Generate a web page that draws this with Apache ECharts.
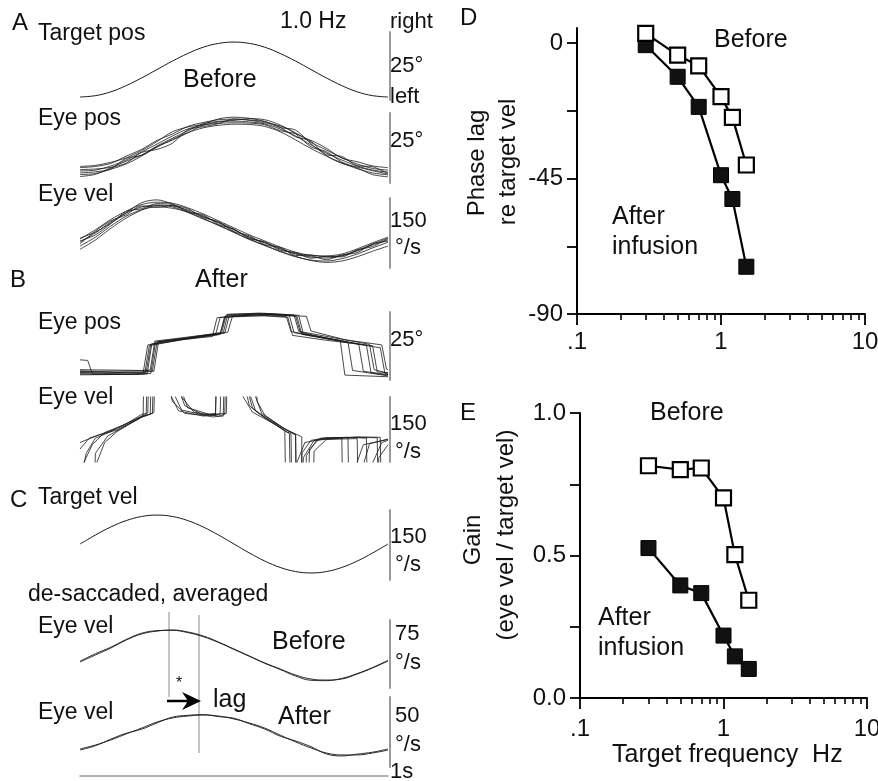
<!DOCTYPE html>
<html><head><meta charset="utf-8">
<script src="https://cdn.jsdelivr.net/npm/echarts@6/dist/echarts.min.js"></script>
<style>html,body{margin:0;padding:0;background:#fff}#c{width:878px;height:781px}</style>
</head><body><div id="c"></div>
<script>
// ---------- Panels D / E data ----------
const freq = [0.3, 0.5, 0.7, 1.0, 1.2, 1.5];
const phaseBefore = [3.2, -4.0, -7.6, -17.8, -24.7, -40.5];
const phaseAfter = [-0.7, -11.2, -21.2, -43.9, -51.8, -74.3];
const gainBefore = [0.815, 0.801, 0.807, 0.702, 0.503, 0.343];
const gainAfter = [0.526, 0.395, 0.368, 0.219, 0.146, 0.102];
const freqMinorTicks = [0.2,0.3,0.4,0.5,0.6,0.7,0.8,0.9,2,3,4,5,6,7,8,9];
const phaseTicks = [-90, -67.5, -45, -22.5, 0];
const phaseLabels = [-90, -45, 0];

// ---------- Panels A-C traces (time in s, 1 cycle of 1.0 Hz) ----------
const time21 = [0,0.05,0.1,0.15,0.2,0.25,0.3,0.35,0.4,0.45,0.5,0.55,0.6,0.65,0.7,0.75,0.8,0.85,0.9,0.95,1];
// A: target position (deg)
const targetPos = [1.1,1.6,3.0,5.3,8.1,11.2,14.3,17.1,19.4,20.8,21.3,20.8,19.4,17.1,14.3,11.2,8.1,5.3,3.0,1.6,1.1];
// A: eye position, before (deg), several cycles
const eyePosBefore = [
 [4.3,4.6,6.1,8.2,11.1,13.9,16.8,19.3,20.7,21.8,22.1,21.8,21.1,19.3,16.8,13.6,10.7,8.2,6.1,4.6,3.9],
 [5.5,5.9,7.0,9.6,12.0,15.2,17.5,20.2,21.6,22.6,22.8,22.4,21.5,20.4,17.9,14.5,11.8,9.0,6.8,5.2,4.6],
 [3.0,3.4,4.9,6.8,9.6,12.8,15.6,18.0,19.7,20.6,21.0,20.9,20.2,18.3,15.4,12.3,9.6,7.2,5.1,3.6,2.9],
 [4.8,5.0,5.6,7.1,10.9,12.0,14.2,19.0,20.1,21.2,22.9,22.5,21.9,19.8,18.9,14.0,10.1,9.5,6.2,5.8,3.4],
 [2.3,3.1,5.4,7.8,10.0,13.2,16.0,18.6,21.2,22.0,22.4,23.0,22.6,20.7,17.6,12.9,11.2,7.5,5.4,3.0,2.2],
 [5.9,6.3,7.4,9.0,11.6,14.8,18.3,20.0,21.0,22.9,23.5,23.1,22.0,19.9,16.5,15.2,12.4,8.9,7.6,6.1,5.5],
 [3.6,4.0,5.0,8.8,9.9,13.0,15.3,17.9,20.6,21.3,21.5,21.4,20.8,18.7,17.6,14.9,9.8,7.0,5.7,4.4,3.2]
];
// A: eye velocity, before (deg/s)
const eyeVelBefore = [
 [55.7,75,98.6,117.9,130.7,135,132.9,124.3,111.4,96.4,81.4,66.4,53.6,40.7,30,23.6,21.4,25.7,36.4,49.3,60],
 [62,82,104,122,136,141,139,129,116,101,86,71,58,45,34,27,26,30,41,54,66],
 [47,66,90,111,125,131,128,120,106,91,76,61,48,35,24,17,15,20,30,43,55],
 [58,71,95,121,127,138,136,120,114,93,83,63,56,38,33,21,25,24,39,46,63],
 [52,79,101,114,133,130,134,127,108,99,78,69,50,44,27,26,18,28,33,52,57],
 [40,60,85,107,124,134,131,119,105,92,77,62,49,36,25,16,12,15,24,36,47],
 [64,77,96,118,140,146,137,122,110,98,83,65,55,42,31,28,24,27,38,51,64]
];
// B: eye position, after ([t s, deg]) – saccadic
const eyePosAfter = [
 [[0,2.8],[0.1,2.4],[0.2,2.6],[0.215,2.9],[0.23,13.2],[0.3,14.6],[0.44,16.4],[0.455,16.8],[0.47,23.4],[0.55,24.2],[0.66,24.0],[0.68,23.6],[0.695,17.4],[0.8,15.2],[0.9,13.4],[0.93,12.8],[0.945,2.6],[1,1.8]],
 [[0,3.4],[0.12,2.8],[0.22,3.0],[0.235,3.3],[0.25,14.0],[0.35,15.4],[0.45,16.9],[0.47,17.2],[0.485,23.8],[0.6,24.4],[0.69,23.7],[0.705,23.2],[0.72,16.8],[0.85,14.1],[0.96,12.1],[0.975,11.9],[0.99,2.4],[1,2.2]],
 [[0,7.4],[0.025,7.2],[0.04,2.2],[0.15,2.0],[0.21,2.3],[0.225,12.6],[0.33,14.8],[0.43,16.0],[0.445,22.9],[0.56,23.9],[0.67,23.3],[0.685,17.8],[0.8,15.5],[0.87,14.0],[0.885,3.5],[0.95,2.4],[1,1.5]],
 [[0,1.9],[0.1,2.0],[0.23,2.4],[0.245,13.9],[0.35,15.6],[0.46,17.5],[0.475,24.0],[0.58,24.6],[0.71,23.8],[0.725,17.0],[0.82,15.0],[0.905,13.2],[0.92,3.2],[1,2.0]],
 [[0,2.5],[0.15,2.8],[0.205,2.6],[0.22,12.9],[0.31,14.4],[0.455,17.0],[0.47,23.1],[0.6,23.6],[0.675,23.0],[0.69,16.4],[0.8,14.6],[0.95,12.6],[0.965,3.0],[1,2.7]],
 [[0,3.1],[0.2,3.4],[0.24,3.2],[0.255,14.2],[0.34,15.2],[0.48,17.6],[0.495,23.5],[0.62,24.1],[0.735,23.4],[0.75,18.0],[0.86,14.8],[0.98,12.9],[0.995,4.0],[1,3.8]],
 [[0,2.2],[0.18,2.0],[0.218,2.2],[0.233,13.1],[0.4,16.3],[0.44,16.6],[0.455,23.0],[0.58,24.0],[0.70,23.5],[0.715,17.6],[0.82,14.9],[0.845,14.5],[0.86,1.8],[1,1.2]],
 [[0,3.8],[0.2,3.5],[0.228,3.7],[0.243,14.3],[0.38,16.2],[0.465,17.3],[0.48,24.2],[0.6,24.5],[0.695,23.9],[0.71,17.9],[0.85,15.0],[0.94,13.1],[0.955,3.8],[1,2.5]]
];
// B: eye velocity, after ([t s, deg/s]) – saccades run off scale
const eyeVelAfter = [
 [[0,-50],[0.02,20],[0.05,55],[0.1,70],[0.15,88],[0.2,110],[0.215,112],[0.225,400],[0.265,400],[0.28,200],[0.3,140],[0.34,112],[0.4,108],[0.455,110],[0.465,400],[0.5,400],[0.52,220],[0.55,130],[0.58,112],[0.65,80],[0.68,65],[0.69,-400],[0.71,-400],[0.72,20],[0.75,50],[0.8,56],[0.9,56],[0.93,55],[0.94,-400],[0.96,-400],[0.97,10],[1,40]],
 [[0,-20],[0.04,40],[0.08,68],[0.14,85],[0.2,105],[0.235,112],[0.245,400],[0.28,400],[0.3,230],[0.33,150],[0.37,115],[0.45,106],[0.47,110],[0.48,400],[0.52,400],[0.54,180],[0.57,118],[0.62,95],[0.7,62],[0.71,-400],[0.73,-400],[0.745,30],[0.78,55],[0.88,57],[0.965,56],[0.975,-400],[0.99,-400],[1,-100]],
 [[0,30],[0.03,55],[0.1,72],[0.18,98],[0.205,108],[0.212,400],[0.25,400],[0.27,250],[0.29,160],[0.32,118],[0.4,106],[0.44,108],[0.447,400],[0.49,400],[0.5,260],[0.53,150],[0.56,115],[0.62,92],[0.665,72],[0.675,-400],[0.695,-400],[0.705,0],[0.73,45],[0.8,54],[0.85,55],[0.86,-400],[0.88,-400],[0.89,-20],[0.92,40],[1,52]],
 [[0,-80],[0.05,-10],[0.08,45],[0.12,70],[0.2,104],[0.24,114],[0.25,400],[0.29,400],[0.31,200],[0.35,125],[0.42,110],[0.475,112],[0.485,400],[0.54,400],[0.56,170],[0.59,112],[0.66,78],[0.72,58],[0.725,-400],[0.745,-400],[0.76,25],[0.8,52],[0.9,54],[0.91,-400],[0.93,-400],[0.945,-10],[0.98,45],[1,50]],
 [[0,45],[0.06,62],[0.12,74],[0.19,100],[0.22,113],[0.23,400],[0.27,400],[0.29,180],[0.33,120],[0.43,104],[0.465,106],[0.475,400],[0.51,400],[0.53,200],[0.56,125],[0.6,102],[0.67,70],[0.685,66],[0.695,-400],[0.715,-400],[0.725,10],[0.76,50],[0.9,58],[0.975,57],[0.985,-400],[1,-400]],
 [[0,-400],[0.03,-400],[0.05,20],[0.09,60],[0.15,84],[0.2,103],[0.228,110],[0.238,400],[0.27,400],[0.3,210],[0.34,130],[0.4,109],[0.44,112],[0.452,400],[0.56,400],[0.575,140],[0.6,108],[0.67,74],[0.7,64],[0.705,-400],[0.725,-400],[0.735,15],[0.77,52],[0.82,56],[0.87,57],[0.88,-400],[0.9,-400],[0.91,-30],[0.94,42],[1,53]]
];
// C: target velocity and de-saccaded averaged eye velocity (deg/s)
const targetVel = [77.1,96.3,113.6,127.3,136.1,139.1,136.1,127.3,113.6,96.3,77.1,57.9,40.6,26.9,18.1,15.1,18.1,26.9,40.6,57.9,77.1];
const avgVelBefore = [
 [28.7,36.4,44.1,52.9,59.6,62.8,64.0,61.8,57.4,50.7,43.0,35.3,27.6,21.0,14.3,9.9,8.8,9.9,15.4,22.1,29.8],
 [29.5,37.8,45.0,53.5,60.4,63.2,63.6,61.1,56.6,50.2,42.5,34.9,27.2,20.4,13.2,8.5,8.1,10.6,15.9,22.6,30.5]
];
const avgVelAfter = [
 [12.9,15.7,19.3,23.6,27.8,32.1,35.0,36.4,37.1,36.4,34.3,31.4,27.8,22.8,17.9,13.6,10.0,8.6,8.6,10.0,12.1],
 [12.1,15.2,19.9,24.1,27.0,31.5,35.6,36.9,37.4,36.0,34.8,30.9,27.1,22.0,18.6,14.5,9.3,7.9,9.2,10.6,12.8]
];

// ---------- layout ----------
const FONT = "'Liberation Sans', Arial, Helvetica, sans-serif";
const leftPanels = [ // top, height, yMax
 {top:32, h:68, max:25},  // A target pos
 {top:113, h:70, max:25}, // A eye pos
 {top:198, h:70, max:150},// A eye vel
 {top:312, h:68, max:25}, // B eye pos
 {top:397, h:65, max:150},// B eye vel
 {top:510, h:70, max:150},// C target vel
 {top:620, h:68, max:75}, // C before
 {top:697, h:70, max:50}  // C after
];
const grids = [], xAxes = [], yAxes = [], series = [];
leftPanels.forEach((p, i) => {
  grids.push({left:80, width:308, top:p.top, height:p.h, outerBoundsMode:'none', containLabel:false});
  xAxes.push({gridIndex:i, type:'value', min:0, max:1, show: i===7,
    offset: i===7 ? 9 : 0, position:'bottom',
    axisLine:{show:true, onZero:false, lineStyle:{color:'#9a9a9a', width:1.5}},
    axisTick:{show:false}, axisLabel:{show:false}, splitLine:{show:false}});
  yAxes.push({gridIndex:i, type:'value', min:0, max:p.max, position:'right', offset:2,
    axisLine:{show:true, onZero:false, lineStyle:{color:'#9a9a9a', width:2}},
    axisTick:{show:false}, axisLabel:{show:false}, splitLine:{show:false}});
});
function addTrace(idx, data, smooth, width, color) {
  series.push({type:'line', xAxisIndex:idx, yAxisIndex:idx, data:data, showSymbol:false, symbol:'none',
    smooth: smooth, clip:true, silent:true, animation:false,
    lineStyle:{color: color || '#1a1a1a', width: width || 0.9}});
}
const pairs = arr => time21.map((t,k) => [t, arr[k]]);
addTrace(0, pairs(targetPos), 0.4, 1);
eyePosBefore.forEach(a => addTrace(1, pairs(a), 0.3, 0.8));
eyeVelBefore.forEach(a => addTrace(2, pairs(a), 0.3, 0.8));
eyePosAfter.forEach(a => addTrace(3, a, false, 0.8));
eyeVelAfter.forEach(a => addTrace(4, a, false, 0.8));
addTrace(5, pairs(targetVel), 0.4, 1);
avgVelBefore.forEach(a => addTrace(6, pairs(a), 0.4, 0.9));
avgVelAfter.forEach(a => addTrace(7, pairs(a), 0.4, 0.9));

// right-hand panels D (grid 8) and E (grid 9)
grids.push({left:577, right:13, top:28, height:286, outerBoundsMode:'none', containLabel:false});
grids.push({left:580, right:11, top:413, height:285, outerBoundsMode:'none', containLabel:false});
const freqFmt = v => v < 0.5 ? '.1' : (v < 5 ? '1' : '10');
const minorLog = freqMinorTicks.map(v => Math.log10(v));
[8, 9].forEach((g, k) => {
  xAxes.push({gridIndex:g, type:'log', logBase:10, min:0.1, max:10, position:'bottom',
    axisLine:{show:true, onZero:false, lineStyle:{color:'#000', width:2}},
    axisTick:{show:true, length:11, lineStyle:{color:'#000', width:1.8}},
    minorTick:{show:false},
    axisLabel:{formatter:freqFmt, fontSize:24, color:'#111', fontFamily:FONT, margin: k===0 ? 16 : 19},
    splitLine:{show:false}});
  xAxes.push({gridIndex:g, type:'value', min:-1, max:1, position:'bottom',
    axisLine:{show:false, onZero:false},
    axisTick:{show:true, length:6, customValues:minorLog, lineStyle:{color:'#000', width:1.6}},
    axisLabel:{show:false}, splitLine:{show:false}});
});
yAxes.push({gridIndex:8, type:'value', min:-90, max:5, interval:22.5,
  axisLine:{show:true, onZero:false, lineStyle:{color:'#000', width:2}},
  axisTick:{show:true, length:10, customValues:phaseTicks, lineStyle:{color:'#000', width:1.8}},
  axisLabel:{customValues:phaseLabels, fontSize:24, color:'#111', fontFamily:FONT, margin:14,
    formatter: v => (Math.abs(v % 45) < 1e-6 ? String(v) : '')},
  splitLine:{show:false}});
yAxes.push({gridIndex:9, type:'value', min:0, max:1, interval:0.25,
  axisLine:{show:true, onZero:false, lineStyle:{color:'#000', width:2}},
  axisTick:{show:true, length:10, lineStyle:{color:'#000', width:1.8}},
  axisLabel:{fontSize:24, color:'#111', fontFamily:FONT, margin:14,
    formatter: v => (Math.abs(v*2 - Math.round(v*2)) < 1e-6 ? v.toFixed(1) : '')},
  splitLine:{show:false}});

function addPoints(xIdx, yIdx, ys, open) {
  series.push({type:'line', xAxisIndex:xIdx, yAxisIndex:yIdx, data: freq.map((f,k)=>[f, ys[k]]),
    symbol:'rect', symbolSize:15, showSymbol:true, animation:false, silent:true,
    lineStyle:{color:'#000', width:2.2},
    itemStyle: open ? {color:'#fff', borderColor:'#000', borderWidth:2.2} : {color:'#111', borderColor:'#000', borderWidth:1}});
}
addPoints(8, 8, phaseAfter, false);
addPoints(8, 8, phaseBefore, true);
addPoints(10, 9, gainAfter, false);
addPoints(10, 9, gainBefore, true);

// ---------- text & annotations ----------
const texts = [
 ['A',12,23,24],['Target pos',38,34,23],['1.0 Hz',280,22,23],['right',390,22,22],['25°',390,66,22],['left',390,97,22],
 ['Before',183,80,25],['Eye pos',38,119,23],['25°',390,141,22],['Eye vel',38,195,23],['150',390,221,22],['°/s',395,248,22],
 ['B',10,280,24],['After',195,280,25],['Eye pos',38,323,23],['25°',390,340,22],['Eye vel',38,398,23],['150',390,424,22],['°/s',395,452,22],
 ['C',10,500,24],['Target vel',38,498,23],['150',390,537,22],['°/s',395,565,22],['de-saccaded, averaged',28,595,23],
 ['Eye vel',38,627,23],['Before',272,642,25],['75',395,634,22],['°/s',395,663,22],['*',176,684,16],['lag',213,700,25],
 ['Eye vel',38,713,23],['After',278,717,25],['50',395,716,22],['°/s',395,745,22],['1s',390,772,22],
 ['D',460,18,24],['Before',714,40,25],['After',612,217,25],['infusion',612,247,25],
 ['E',460,413,24],['Before',650,413,25],['After',598,618,25],['infusion',598,648,25],['Target frequency  Hz',612,755,25]
];
const graphics = texts.map(t => ({type:'text', x:t[1], y:t[2], silent:true,
  style:{text:t[0], fontSize:t[3], fontFamily:FONT, fill:'#111', align:'left', verticalAlign:'middle'}}));
[['Phase lag',477,163],['re target vel',508,162],['Gain',473,540],['(eye vel / target vel)',506,535]].forEach(t => {
  graphics.push({type:'text', x:t[1], y:t[2], rotation:Math.PI/2, silent:true,
    style:{text:t[0], fontSize:24, fontFamily:FONT, fill:'#111', align:'center', verticalAlign:'middle'}});
});
graphics.push({type:'line', silent:true, shape:{x1:169, y1:612, x2:169, y2:697}, style:{stroke:'#8a8a8a', lineWidth:1}});
graphics.push({type:'line', silent:true, shape:{x1:199, y1:615, x2:199, y2:753}, style:{stroke:'#8a8a8a', lineWidth:1}});
graphics.push({type:'line', silent:true, shape:{x1:167, y1:701, x2:190, y2:701}, style:{stroke:'#000', lineWidth:2.5}});
graphics.push({type:'polygon', silent:true, shape:{points:[[201,701],[182,692],[188,701],[182,710]]}, style:{fill:'#000'}});

const chart = echarts.init(document.getElementById('c'), null, {renderer:'canvas'});
chart.setOption({animation:false, backgroundColor:'#fff', grid:grids, xAxis:xAxes, yAxis:yAxes, series:series, graphic:graphics});
</script></body></html>
